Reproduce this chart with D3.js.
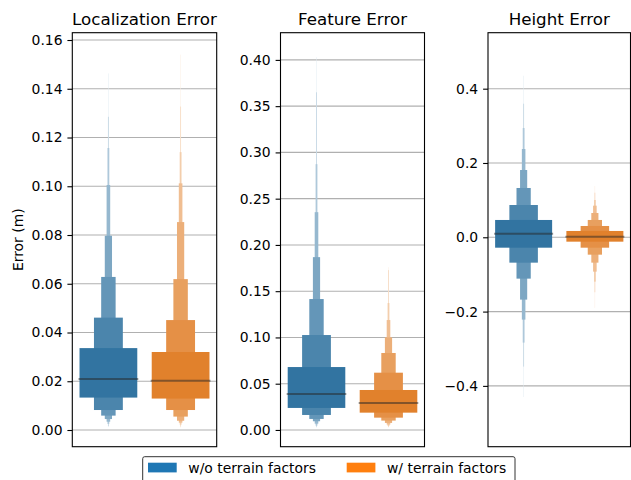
<!DOCTYPE html>
<html>
<head>
<meta charset="utf-8">
<script src="https://cdn.jsdelivr.net/npm/d3@7"></script>
<style>
    body { margin: 0; background: #fff; }
    svg { display: block; font-family: "DejaVu Sans", sans-serif; }
</style>
</head>
<body>
<div id="chart"></div>
<script>
// series names and colours
const seriesNames = ["w/o terrain factors", "w/ terrain factors"];
const seriesColors = ["#1f77b4", "#ff7f0e"];
const boxColors = ["#3274a1", "#e1812c"];

const panelTitles = ["Localization Error", "Feature Error", "Height Error"];

// letter values, innermost box first (lower / upper edge of each box)
const locWoLow = [0.0133, 0.0082, 0.0059, 0.0045, 0.0034, 0.0025, 0.0016, 0.0012];
const locWoHigh = [0.0336, 0.0461, 0.0628, 0.0797, 0.1005, 0.1157, 0.1285, 0.1463];
const locWLow = [0.0129, 0.0082, 0.0055, 0.0038, 0.0030, 0.0022, 0.0014, 0.0010];
const locWHigh = [0.0320, 0.0451, 0.0619, 0.0853, 0.1012, 0.1140, 0.1327, 0.1540];
const locMedians = [0.0209, 0.0202];

const featWoLow = [0.0238, 0.0162, 0.0119, 0.0094, 0.0068, 0.0047, 0.0035, 0.0025];
const featWoHigh = [0.0680, 0.1026, 0.1415, 0.1868, 0.2354, 0.2873, 0.3650, 0.4030];
const featWLow = [0.0187, 0.0133, 0.0101, 0.0076, 0.0058, 0.0043, 0.0032, 0.0025];
const featWHigh = [0.0432, 0.0619, 0.0832, 0.1001, 0.1188, 0.1372, 0.1728, 0.1760];
const featMedians = [0.0389, 0.0292];

const heightWoLow = [-0.0280, -0.0683, -0.1113, -0.1678, -0.2216, -0.2835, -0.3481, -0.4300];
const heightWoHigh = [0.0466, 0.0869, 0.1327, 0.1811, 0.2376, 0.2941, 0.3596, 0.4349];
const heightWLow = [-0.0118, -0.0280, -0.0468, -0.0683, -0.0925, -0.1194, -0.1480, -0.1900];
const heightWHigh = [0.0170, 0.0304, 0.0466, 0.0654, 0.0851, 0.1004, 0.1201, 0.1380];
const heightMedians = [0.0097, 0.0016];

// tick labels
const locTicks = [0, 0.02, 0.04, 0.06, 0.08, 0.10, 0.12, 0.14, 0.16];
const featTicks = [0, 0.05, 0.10, 0.15, 0.20, 0.25, 0.30, 0.35, 0.40];
const heightTicks = [-0.4, -0.2, 0, 0.2, 0.4];

const width = 631;
const height = 480;

const svg = d3.select("#chart")
    .append("svg")
    .attr("width", width)
    .attr("height", height);

const plotTop = 32.7;
const plotBottom = 446.7;

const panels = [
    { left: 72.3, right: 216.7, domain: [-0.00685, 0.163], ticks: locTicks, fmt: d3.format(".2f"),
      low: [locWoLow, locWLow], high: [locWoHigh, locWHigh], medians: locMedians },
    { left: 280.5, right: 424.5, domain: [-0.0181, 0.4294], ticks: featTicks, fmt: d3.format(".2f"),
      low: [featWoLow, featWLow], high: [featWoHigh, featWHigh], medians: featMedians },
    { left: 488, right: 630.5, domain: [-0.5637, 0.5507], ticks: heightTicks, fmt: d3.format(".1f"),
      low: [heightWoLow, heightWLow], high: [heightWoHigh, heightWHigh], medians: heightMedians }
];

panels.forEach((p, i) => {
    const g = svg.append("g");

    const y = d3.scaleLinear()
        .domain(p.domain)
        .range([plotBottom, plotTop]);

    const x = d3.scaleBand()
        .domain(seriesNames)
        .range([p.left, p.right])
        .padding(0);

    // grid lines
    g.append("g")
        .selectAll("line")
        .data(p.ticks)
        .join("line")
        .attr("x1", p.left)
        .attr("x2", p.right)
        .attr("y1", d => y(d))
        .attr("y2", d => y(d))
        .attr("stroke", "#b0b0b0")
        .attr("stroke-width", 1.1);

    // boxes, outermost drawn first
    seriesNames.forEach((name, s) => {
        const n = p.low[s].length;
        const cx = x(name) + x.bandwidth() / 2;
        const color = d3.interpolateRgb(boxColors[s], "#ffffff");
        const levels = d3.range(n).reverse();
        g.append("g")
            .selectAll("rect")
            .data(levels)
            .join("rect")
            .attr("x", k => cx - x.bandwidth() * 0.8 * Math.pow(0.5, k) / 2)
            .attr("width", k => x.bandwidth() * 0.8 * Math.pow(0.5, k))
            .attr("y", k => y(p.high[s][k]))
            .attr("height", k => y(p.low[s][k]) - y(p.high[s][k]))
            .attr("fill", k => color(0.85 * k / (n - 1)));
    });

    // medians
    seriesNames.forEach((name, s) => {
        const cx = x(name) + x.bandwidth() / 2;
        const w = x.bandwidth() * 0.8;
        g.append("line")
            .attr("x1", cx - w / 2 - 1)
            .attr("x2", cx + w / 2 + 1)
            .attr("y1", y(p.medians[s]))
            .attr("y2", y(p.medians[s]))
            .attr("stroke", "#262626")
            .attr("stroke-opacity", 0.5)
            .attr("stroke-width", 2.1);
    });

    // y axis
    const yAxis = d3.axisLeft(y)
        .tickValues(p.ticks)
        .tickSize(4.9)
        .tickPadding(4.9)
        .tickFormat(d => p.fmt(d).replace("-", "\u2212"));
    const ax = g.append("g")
        .attr("transform", `translate(${p.left},0)`)
        .call(yAxis);
    ax.select(".domain").remove();
    ax.selectAll(".tick line").attr("stroke", "#000").attr("stroke-width", 1.1);
    ax.selectAll(".tick text")
        .attr("fill", "#000")
        .style("font-size", "13.9px")
        .style("font-family", "DejaVu Sans");

    // frame
    g.append("rect")
        .attr("x", p.left)
        .attr("y", plotTop)
        .attr("width", p.right - p.left)
        .attr("height", plotBottom - plotTop)
        .attr("fill", "none")
        .attr("stroke", "#000")
        .attr("stroke-width", 1.1);

    // title
    g.append("text")
        .attr("x", (p.left + p.right) / 2)
        .attr("y", 25)
        .attr("text-anchor", "middle")
        .style("font-size", "16.7px")
        .text(panelTitles[i]);
});

// y axis label
svg.append("text")
    .attr("transform", "translate(22.5,239.7) rotate(-90)")
    .attr("text-anchor", "middle")
    .style("font-size", "13.9px")
    .text("Error (m)");

// legend
const legend = svg.append("g");
legend.append("rect")
    .attr("x", 142.7)
    .attr("y", 456.7)
    .attr("width", 372.3)
    .attr("height", 40)
    .attr("rx", 2)
    .attr("fill", "#fff")
    .attr("stroke", "#333")
    .attr("stroke-width", 1);

const legendX = [148, 346.7];
seriesNames.forEach((name, s) => {
    legend.append("rect")
        .attr("x", legendX[s])
        .attr("y", 462.7)
        .attr("width", 28.7)
        .attr("height", 9.7)
        .attr("fill", seriesColors[s]);
    legend.append("text")
        .attr("x", legendX[s] + 40.3)
        .attr("y", 473.2)
        .style("font-size", "13.9px")
        .text(name);
});
</script>
</body>
</html>
